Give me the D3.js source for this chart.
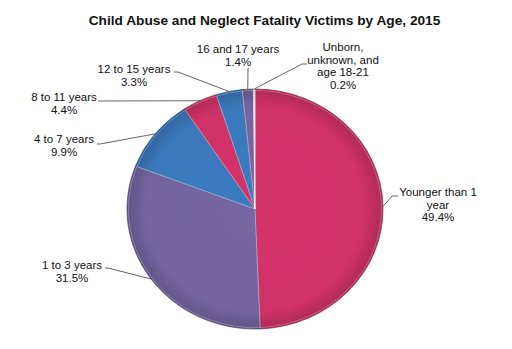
<!DOCTYPE html>
<html><head><meta charset="utf-8">
<script src="https://cdn.jsdelivr.net/npm/d3@7"></script>
<style>html,body{margin:0;padding:0;background:#fff;}svg{display:block;}</style>
</head><body>
<svg id="chart" width="512" height="349"></svg>
<script>
// Data
const categories = ["Younger than 1 year","1 to 3 years","4 to 7 years","8 to 11 years","12 to 15 years","16 and 17 years","Unborn, unknown, and age 18-21"];
const values = [49.4, 31.5, 9.9, 4.4, 3.3, 1.4, 0.2];
const labelLines = [["Younger than 1","year","49.4%"],["1 to 3 years","31.5%"],["4 to 7 years","9.9%"],["8 to 11 years","4.4%"],["12 to 15 years","3.3%"],["16 and 17 years","1.4%"],["Unborn,","unknown, and","age 18-21","0.2%"]];
const title = "Child Abuse and Neglect Fatality Victims by Age, 2015";

// Layout (label anchor + leader elbow points)
const colors = ["#d5336a","#7667a4","#3c7bc0","#d5336a","#3c7bc0","#7667a4","#f4f4f6"];
const labelPos = [
  {x:438,y:196,pts:[[392,196],[398,196]]},
  {x:72,y:269,pts:[[108,268],[105,268]]},
  {x:64,y:143,pts:[[100,144],[97,144]]},
  {x:64,y:101,pts:[[98,101]]},
  {x:134,y:73,pts:[[178,72],[174,72]]},
  {x:238,y:53,pts:[[248,68]]},
  {x:343,y:51,pts:[[302,64],[307,64]]}
];
const cx = 255, cy = 209, rx = 128, ry = 120;

const svg = d3.select("#chart");
const defs = svg.append("defs");
const rg = defs.append("radialGradient").attr("id","shade").attr("cx","50%").attr("cy","50%").attr("r","50%");
rg.append("stop").attr("offset","0%").attr("stop-color","#000").attr("stop-opacity",0);
rg.append("stop").attr("offset","85%").attr("stop-color","#000").attr("stop-opacity",0.02);
rg.append("stop").attr("offset","100%").attr("stop-color","#000").attr("stop-opacity",0.18);

svg.append("text").attr("x",264.5).attr("y",25).attr("text-anchor","middle")
  .style("font-family","'Liberation Sans', Arial, sans-serif").style("font-weight","bold").style("font-size","13.7px")
  .attr("fill","#111").text(title);

const pie = d3.pie().sort(null).value(d=>d)(values);
const arc = d3.arc().innerRadius(0).outerRadius(rx);
const g = svg.append("g").attr("transform",`translate(${cx},${cy}) scale(1,${ry/rx})`);
g.selectAll("path.slice").data(pie).join("path").attr("class","slice")
  .attr("d",arc).attr("fill",(d,i)=>colors[i])
  .attr("stroke",(d,i)=>d3.color(colors[i]).darker(0.5)).attr("stroke-width",0.8)
  .attr("vector-effect","non-scaling-stroke");
g.append("circle").attr("r",rx).attr("fill","url(#shade)").attr("pointer-events","none");
g.selectAll("path.hl").data(pie).join("path").attr("class","hl")
  .attr("d",d3.arc().innerRadius(0).outerRadius(rx-1.5)).attr("fill","none")
  .attr("stroke","rgba(255,255,255,0.25)").attr("stroke-width",1).attr("vector-effect","non-scaling-stroke");

const edge = d => { const a=(d.startAngle+d.endAngle)/2; return [cx+rx*Math.sin(a), cy-ry*Math.cos(a)]; };
const line = d3.line();
svg.selectAll("path.leader").data(pie).join("path").attr("class","leader")
  .attr("d",(d,i)=>line([edge(d), ...labelPos[i].pts]))
  .attr("fill","none").attr("stroke","#555").attr("stroke-width",0.9);

const lbl = svg.selectAll("text.lbl").data(pie).join("text").attr("class","lbl")
  .attr("text-anchor","middle")
  .style("font-family","'Liberation Sans', Arial, sans-serif").style("font-size","11.5px").attr("fill","#111");
lbl.each(function(d,i){
  const t = d3.select(this);
  labelLines[i].forEach((s,j)=>{
    t.append("tspan").attr("x",labelPos[i].x).attr("y",labelPos[i].y + j*12.5).text(s);
  });
});
</script>
</body></html>
